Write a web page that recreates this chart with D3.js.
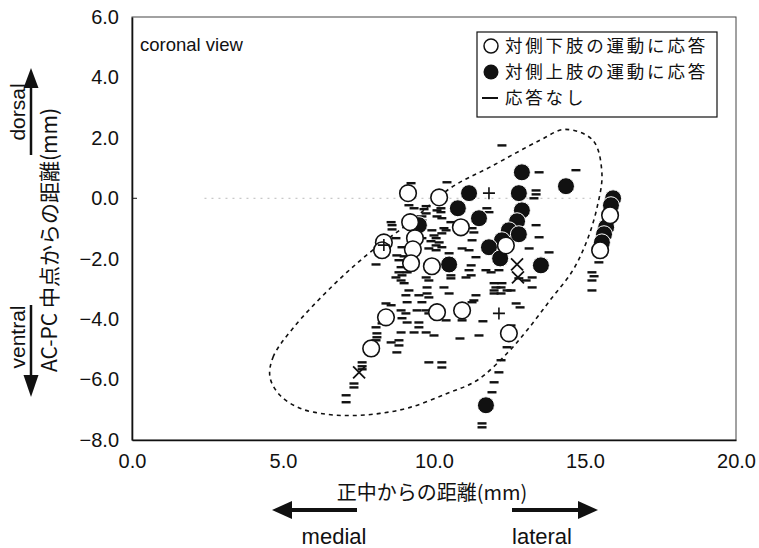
<!DOCTYPE html>
<html><head><meta charset="utf-8">
<script src="https://cdn.jsdelivr.net/npm/d3@7"></script>
<style>
body{margin:0;background:#fff}
svg text{font-family:"Liberation Sans","Noto Sans CJK JP",sans-serif;fill:#111}
.jp{font-family:"Noto Sans CJK JP",sans-serif}
</style>
</head><body>
<svg id="chart" width="759" height="548"></svg>
<script>
// ---- data (x: distance from midline, mm; y: distance from AC-PC midpoint, mm)
const xTicks = [0, 5, 10, 15, 20];
const yTicks = [6, 4, 2, 0, -2, -4, -6, -8];
const legendLabels = ["対側下肢の運動に応答", "対側上肢の運動に応答", "応答なし"];

const openPts = [
  [9.14,0.17],[10.17,0.03],[9.21,-0.79],[10.89,-0.96],[9.37,-1.32],[9.30,-1.69],
  [8.34,-1.46],[8.28,-1.72],[9.24,-2.15],[9.93,-2.25],[12.38,-1.56],[15.83,-0.56],
  [15.50,-1.72],[8.41,-3.94],[7.92,-4.97],[10.10,-3.77],[10.93,-3.71],[12.48,-4.47]
];
const filledPts = [
  [12.91,0.86],[14.37,0.40],[12.81,0.17],[11.16,0.17],[10.79,-0.33],[9.50,-0.89],
  [11.49,-0.66],[12.91,-0.40],[12.75,-0.76],[12.48,-1.06],[12.81,-1.19],[12.25,-1.39],
  [11.82,-1.62],[12.19,-1.99],[10.50,-2.19],[13.54,-2.22],[11.72,-6.85],
  [15.93,0.0],[15.86,-0.23],[15.70,-0.96],[15.63,-1.19],[15.56,-1.46]
];
const plusPts = [[11.82,0.17],[12.15,-3.81],[8.34,-1.55]];
const crossPts = [[7.52,-5.76],[12.75,-2.19],[12.78,-2.62]];
const dashPts = [
  [12.25,1.75],[10.43,0.53],[9.24,0.50],[13.48,0.86],[14.70,0.93],[13.38,0.26],[13.38,0.13],[13.31,0.0],
  [9.17,-0.23],[9.34,-0.33],[9.74,-0.26],[9.67,-0.36],[9.74,-0.50],[10.10,-0.40],[10.10,-0.60],
  [10.23,-0.33],[10.23,-0.46],[9.60,-0.60],[9.60,-0.73],[8.61,-0.89],[8.61,-1.03],[8.58,-0.79],
  [9.93,-1.06],[10.00,-1.23],[10.33,-0.99],[10.26,-1.16],[10.56,-0.79],[11.75,-0.33],[11.82,-0.46],
  [11.26,-0.99],[11.32,-1.13],[9.60,-1.32],[10.07,-1.32],[9.90,-1.42],[10.07,-1.56],[10.07,-1.72],
  [8.74,-1.32],[8.94,-1.62],[9.01,-1.92],[8.84,-2.05],[8.77,-1.89],[8.08,-2.19],[8.91,-2.28],
  [8.84,-2.45],[8.94,-2.55],[8.91,-2.72],[9.01,-2.81],[9.74,-2.62],[9.83,-2.72],[10.33,-2.95],
  [10.50,-3.15],[10.93,-1.66],[11.16,-1.72],[11.26,-1.39],[11.39,-1.95],[9.83,-1.66],[10.50,-1.82],
  [11.23,-2.22],[11.16,-2.38],[11.23,-2.55],[10.56,-2.55],[10.56,-2.65],[11.06,-2.62],[11.72,-2.38],
  [11.89,-2.45],[12.15,-2.38],[11.99,-2.81],[12.05,-2.95],[11.99,-3.05],[11.99,-3.15],[12.25,-2.81],
  [12.42,-3.05],[9.77,-2.95],[9.77,-3.15],[9.83,-3.28],[9.17,-3.05],[9.07,-3.21],[9.50,-3.21],
  [9.60,-3.44],[9.11,-3.44],[8.58,-3.54],[8.91,-3.71],[9.07,-3.81],[8.94,-3.97],[9.11,-4.11],
  [9.50,-4.11],[9.74,-3.71],[9.83,-3.81],[8.08,-4.27],[8.11,-4.47],[8.11,-4.60],[8.08,-4.70],
  [8.28,-4.14],[8.91,-4.44],[8.84,-4.70],[8.84,-4.87],[8.77,-5.10],[8.58,-4.77],[9.34,-4.44],
  [9.74,-4.44],[10.00,-4.54],[9.50,-4.27],[10.40,-4.04],[10.93,-4.04],[11.62,-4.07],[10.86,-4.64],
  [11.49,-4.54],[11.26,-3.44],[11.39,-3.21],[11.32,-3.38],[12.22,-2.95],[12.22,-3.15],[12.72,-3.48],
  [12.85,-3.61],[13.25,-2.95],[12.55,-4.21],[12.42,-4.93],[12.22,-5.36],[12.15,-5.76],[11.99,-6.09],
  [11.92,-6.42],[11.59,-7.45],[11.59,-7.58],[10.26,-5.43],[10.26,-5.60],[9.83,-5.43],[13.38,-0.89],
  [13.48,-1.29],[13.15,-1.66],[13.81,-1.79],[13.25,-2.62],[12.55,-3.05],[12.81,-2.65],[13.05,-2.72],
  [15.23,-2.45],[15.30,-2.58],[15.23,-2.72],[15.23,-3.05],[15.46,-2.12],[7.09,-6.52],[7.09,-6.75],
  [7.35,-6.13],[7.35,-6.26],[7.62,-5.43],[7.62,-5.56],[7.62,-5.66],[8.74,-2.62],[9.11,-2.45],
  [10.17,-1.46],[10.26,-1.62],[10.26,-0.66],[10.40,-1.06],[9.44,-3.71],[8.41,-3.48]
];
// dashed region outline (annotation), in data units
const regionOutline = [
  [4.57,-5.93],[4.67,-5.26],[5.33,-4.30],[6.66,-2.88],[7.88,-1.79],[9.21,-0.79],[10.53,0.33],
  [11.85,1.03],[13.51,1.92],[14.34,2.28],[15.26,1.92],[15.56,0.83],[15.40,-0.30],[15.07,-1.39],
  [14.60,-2.38],[13.84,-3.38],[13.08,-4.37],[12.42,-5.13],[11.42,-6.03],[10.43,-6.46],[9.21,-6.92],
  [8.21,-7.12],[7.32,-7.19],[6.46,-7.15],[5.56,-6.95],[4.90,-6.52]
];
const refLine = [[2.4,0],[15.2,0]];

// ---- drawing
const svg = d3.select("#chart");
const x = d3.scaleLinear().domain([0,20]).range([132,736]);
const y = d3.scaleLinear().domain([-8,6]).range([440,17]);
const fmt = v => (v < 0 ? "\u2212" : "") + Math.abs(v).toFixed(1);

// frame
svg.append("rect").attr("x",x(0)).attr("y",y(6)).attr("width",x(20)-x(0)).attr("height",y(-8)-y(6))
  .attr("fill","none").attr("stroke","#444").attr("stroke-width",1);

// reference dotted line at y=0
svg.append("path").attr("d",d3.line().x(d=>x(d[0])).y(d=>y(d[1]))(refLine))
  .attr("stroke","#bbb").attr("stroke-width",1).attr("stroke-dasharray","2,5").attr("fill","none");

// axes
const xAxis = svg.append("g").attr("transform",`translate(0,${y(-8)})`)
  .call(d3.axisBottom(x).tickValues(xTicks).tickSize(0).tickPadding(14).tickFormat(fmt));
xAxis.select(".domain").attr("stroke","#111").attr("stroke-width",1.6);
xAxis.selectAll("text").attr("font-size",20).attr("fill","#111");
const yAxis = svg.append("g").attr("transform",`translate(${x(0)},0)`)
  .call(d3.axisLeft(y).tickValues(yTicks).tickSize(0).tickPadding(13).tickFormat(fmt));
yAxis.select(".domain").attr("stroke","#111").attr("stroke-width",1.6);
yAxis.selectAll("text").attr("font-size",20).attr("fill","#111");
svg.append("line").attr("x1",x(0)).attr("x2",x(0)+5).attr("y1",y(0)).attr("y2",y(0)).attr("stroke","#111");

// region outline
svg.append("path").attr("d",d3.line().x(d=>x(d[0])).y(d=>y(d[1])).curve(d3.curveCatmullRomClosed)(regionOutline))
  .attr("fill","none").attr("stroke","#111").attr("stroke-width",1.6).attr("stroke-dasharray","4,4");

// dashes (no response)
svg.append("g").selectAll("rect").data(dashPts).join("rect")
  .attr("x",d=>x(d[0])-4.5).attr("y",d=>y(d[1])-1.2).attr("width",9).attr("height",2.4).attr("fill","#111");

// filled circles
svg.append("g").selectAll("circle").data(filledPts).join("circle")
  .attr("cx",d=>x(d[0])).attr("cy",d=>y(d[1])).attr("r",8.5).attr("fill","#111")
  .attr("stroke","#fff").attr("stroke-width",1);
// open circles
svg.append("g").selectAll("circle").data(openPts).join("circle")
  .attr("cx",d=>x(d[0])).attr("cy",d=>y(d[1])).attr("r",8.3).attr("fill","#fff")
  .attr("stroke","#111").attr("stroke-width",1.6);
// plus & cross
svg.append("g").selectAll("path").data(plusPts).join("path")
  .attr("d",d=>`M${x(d[0])-6},${y(d[1])}H${x(d[0])+6}M${x(d[0])},${y(d[1])-6}V${y(d[1])+6}`)
  .attr("stroke","#111").attr("stroke-width",1.6);
svg.append("g").selectAll("path").data(crossPts).join("path")
  .attr("d",d=>`M${x(d[0])-6},${y(d[1])-6}L${x(d[0])+6},${y(d[1])+6}M${x(d[0])+6},${y(d[1])-6}L${x(d[0])-6},${y(d[1])+6}`)
  .attr("stroke","#111").attr("stroke-width",1.8);

// annotation
svg.append("text").attr("x",140).attr("y",51).attr("font-size",18.5).text("coronal view");

// legend
const lg = svg.append("g");
lg.append("rect").attr("x",477).attr("y",32).attr("width",240).attr("height",85)
  .attr("fill","#fff").attr("stroke","#111").attr("stroke-width",1.2);
const rowY = [46, 72, 98];
lg.append("circle").attr("cx",491).attr("cy",rowY[0]).attr("r",7).attr("fill","#fff").attr("stroke","#111").attr("stroke-width",1.5);
lg.append("circle").attr("cx",491).attr("cy",rowY[1]).attr("r",7.5).attr("fill","#111");
lg.append("rect").attr("x",482).attr("y",rowY[2]-1).attr("width",16).attr("height",2).attr("fill","#111");
lg.selectAll("text.lab").data(legendLabels).join("text").attr("class","lab jp")
  .attr("x",505).attr("y",(d,i)=>rowY[i]).attr("dy","0.36em").attr("font-size",17.5)
  .attr("letter-spacing",2.8).text(d=>d);

// axis titles
svg.append("text").attr("class","jp").attr("x",432).attr("y",500).attr("text-anchor","middle")
  .attr("font-size",20).text("正中からの距離(mm)");
svg.append("text").attr("class","jp").attr("transform","translate(57,240) rotate(-90)")
  .attr("text-anchor","middle").attr("font-size",21).text("AC-PC 中点からの距離(mm)");

// direction arrows
function arrow(x1,y1,x2,y2,w,head,hw){
  const dx=x2-x1, dy=y2-y1, L=Math.hypot(dx,dy), ux=dx/L, uy=dy/L;
  const bx=x2-ux*head, by=y2-uy*head;
  svg.append("line").attr("x1",x1).attr("y1",y1).attr("x2",bx+ux).attr("y2",by+uy)
    .attr("stroke","#111").attr("stroke-width",w);
  svg.append("path").attr("d",`M${x2},${y2}L${bx-uy*hw},${by+ux*hw}L${bx+uy*hw},${by-ux*hw}Z`).attr("fill","#111");
}
arrow(31,155,31,68,2.5,20,7.5);
arrow(31,305,31,397,2.5,22,7.5);
arrow(357,510,272,510,4,20,9);
arrow(512,510,598,510,4,20,9);
svg.append("text").attr("transform","translate(25,112) rotate(-90)").attr("text-anchor","middle").attr("font-size",21).text("dorsal");
svg.append("text").attr("transform","translate(25,337) rotate(-90)").attr("text-anchor","middle").attr("font-size",21).text("ventral");
svg.append("text").attr("x",334).attr("y",544).attr("text-anchor","middle").attr("font-size",22).text("medial");
svg.append("text").attr("x",542).attr("y",544).attr("text-anchor","middle").attr("font-size",22).text("lateral");
</script>
</body></html>
